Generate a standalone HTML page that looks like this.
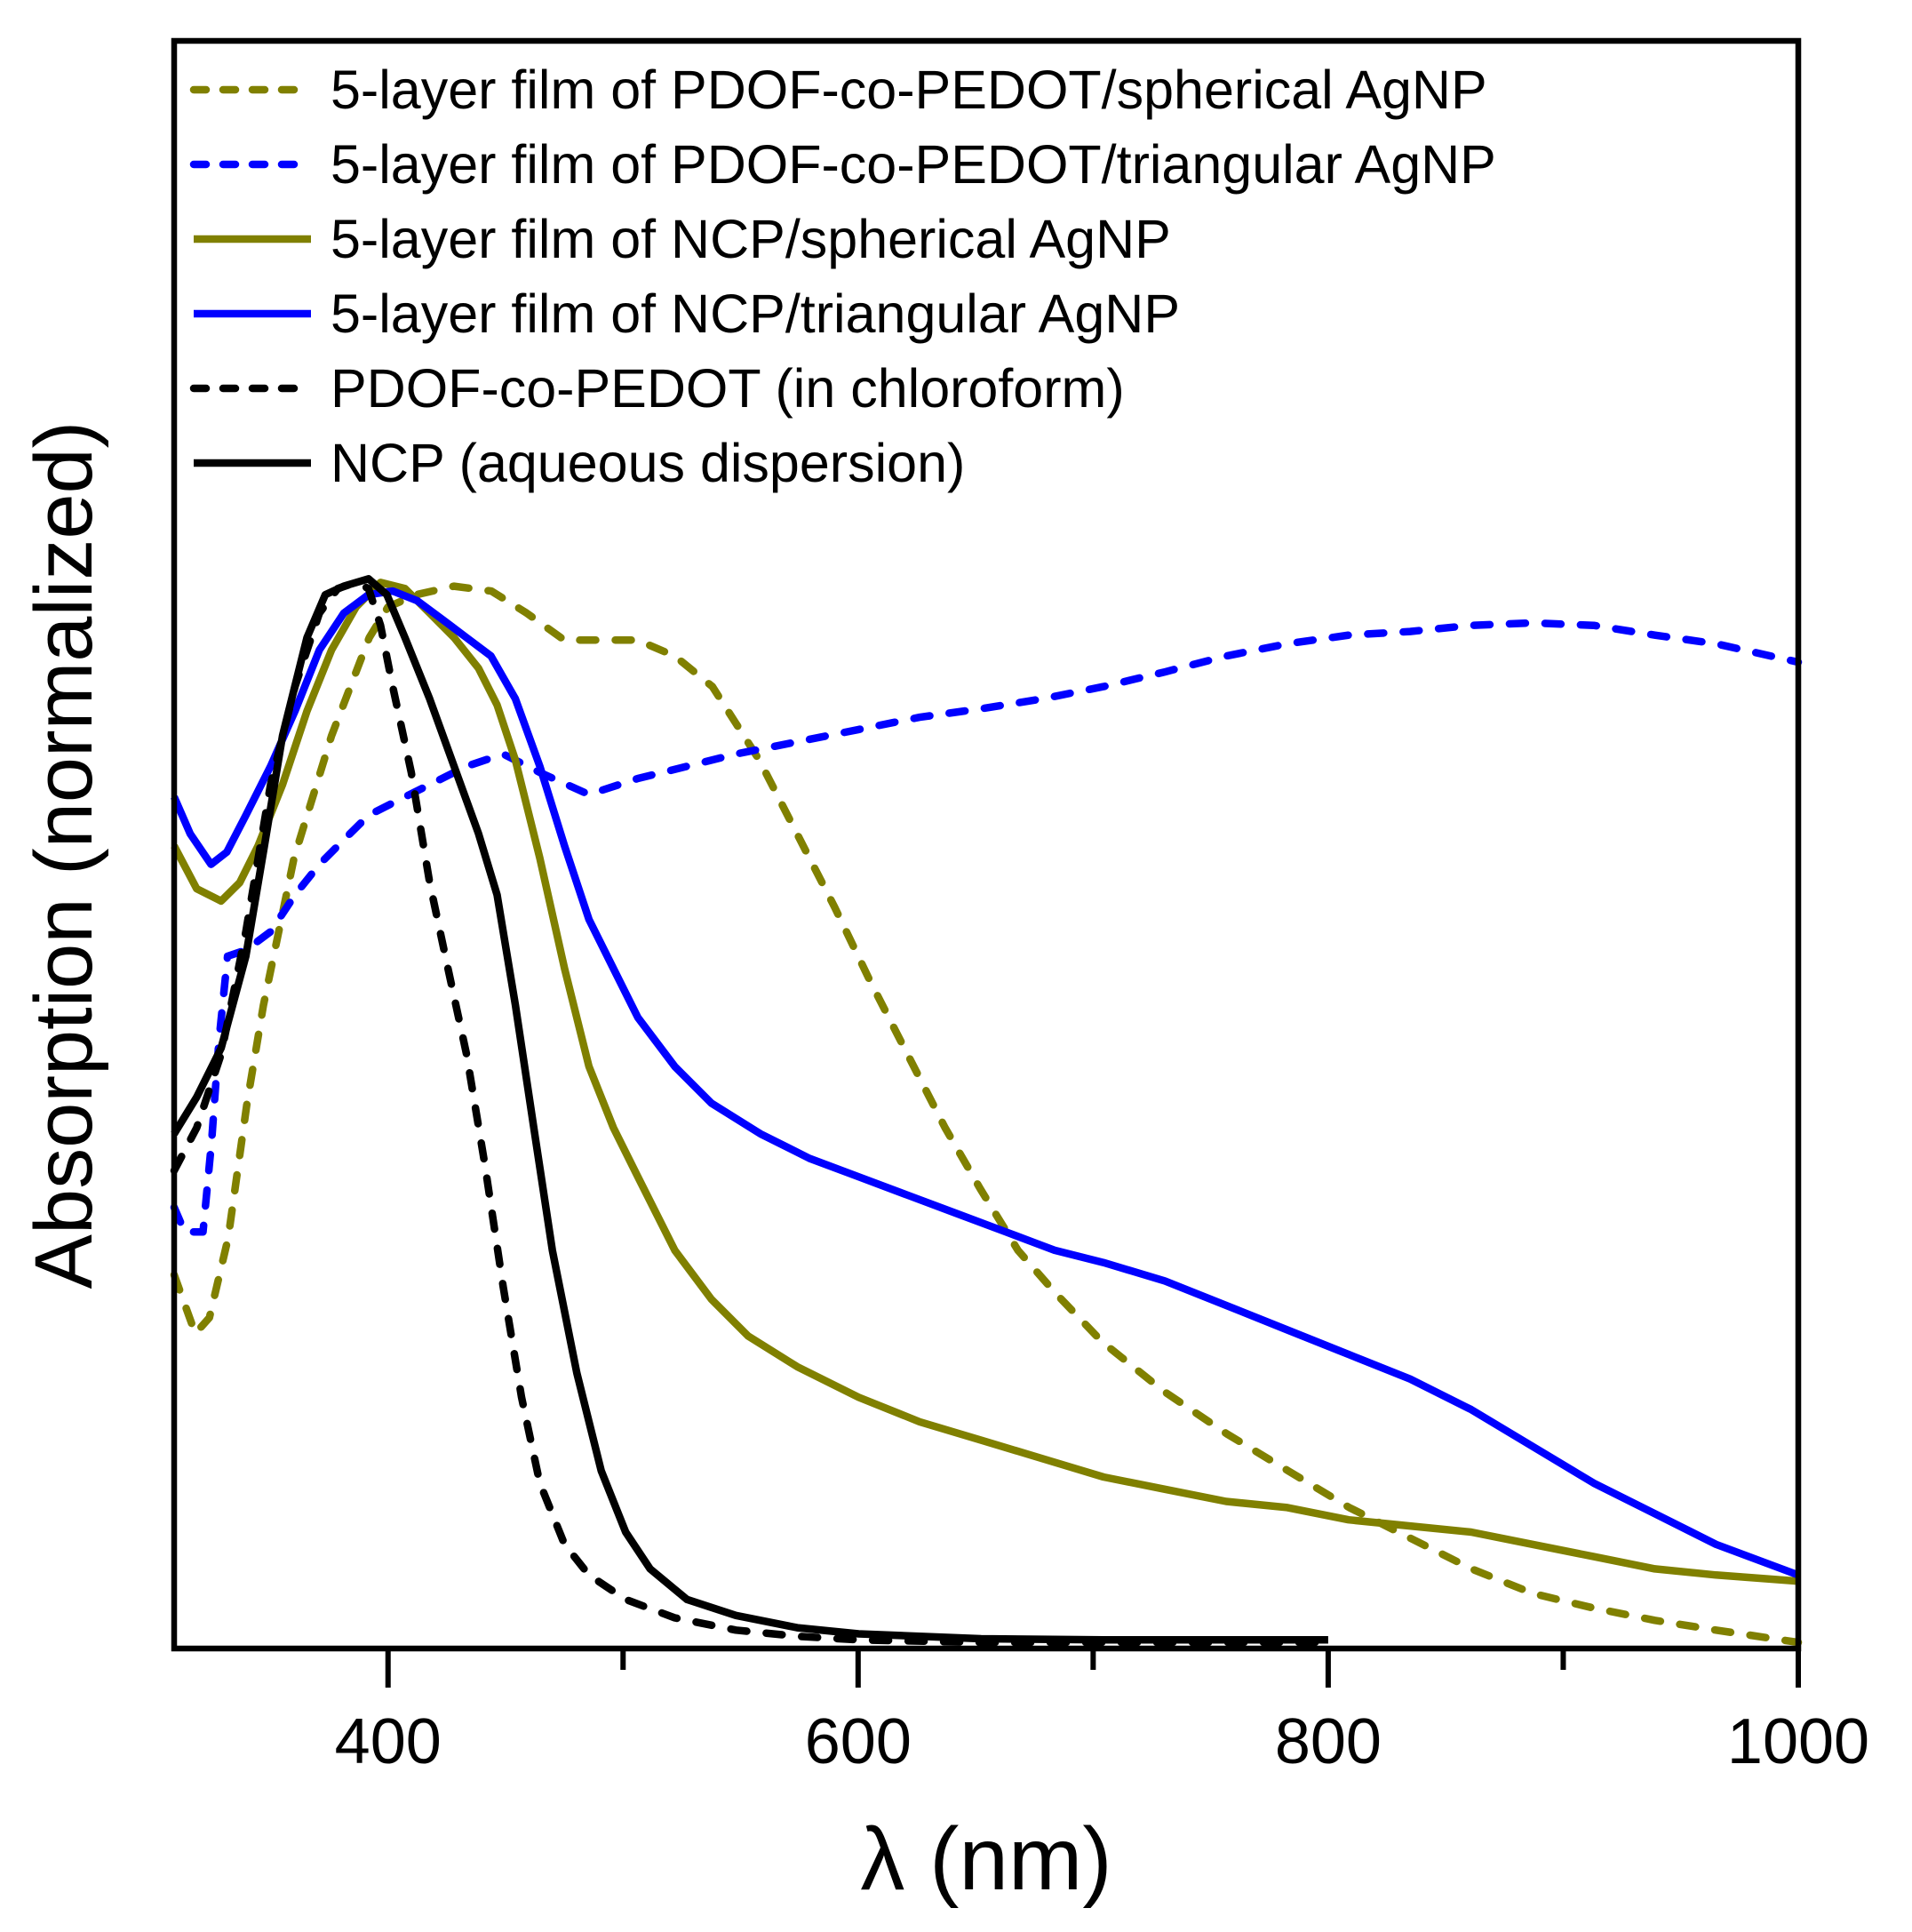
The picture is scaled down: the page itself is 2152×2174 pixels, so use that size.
<!DOCTYPE html>
<html><head><meta charset="utf-8"><style>
html,body{margin:0;padding:0;background:#fff;}
svg{display:block;font-family:"Liberation Sans",Arial,sans-serif;}
</style></head><body>
<svg id="chart" width="2152" height="2174" viewBox="0 0 2152 2174" xmlns="http://www.w3.org/2000/svg">
<g id="series"></g>
<rect x="196" y="46" width="1828" height="1809" fill="none" stroke="#000" stroke-width="6.5"/>
<g id="xticks"></g>
<text x="1110" y="2126" font-size="100" text-anchor="middle">λ (nm)</text>
<text transform="translate(103,962) rotate(-90)" font-size="92" text-anchor="middle">Absorption (normalized)</text>
<g id="legend"></g>
</svg>
<script>
const xTicks=[400,600,800,1000];
const xMinor=[500,700,900];
const labels=["5-layer film of PDOF-co-PEDOT/spherical AgNP","5-layer film of PDOF-co-PEDOT/triangular AgNP","5-layer film of NCP/spherical AgNP","5-layer film of NCP/triangular AgNP","PDOF-co-PEDOT (in chloroform)","NCP (aqueous dispersion)"];
const colors=["#808000","#0000ff","#808000","#0000ff","#000","#000"];
const dashed=[true,true,false,false,true,false];
const lamOD=[309,318,324,332,340,347,360,376,392,400,412,428,444,459,475,491,506,522,538,548,558,574,590,605,621,637,652,668,684,704,730,757,783,809,835,861,887,913,939,965,1000];
const valOD=[305,257,270,335,445,525,645,745,825,850,860,867,863,845,823,823,823,810,785,755,725,665,605,545,485,425,375,325,290,250,210,175,145,115,90,65,45,33,23,15,5];
const lamBD=[309,313.5,321.3,325,328,331.7,339.5,350,360.4,370.8,381.2,391.7,402,417.7,433.4,449,464.6,485.5,506.3,527.2,548,574.1,600.2,626.2,652.3,678.4,704.4,730.5,756.6,782.6,808.7,834.8,860.8,886.9,913,939,965,1000];
const valBD=[360,340,340,415,495,565,570,585,615,640,660,680,690,705,720,730,715,697,710,720,730,740,750,760,767,775,785,797,810,820,827,830,835,837,835,827,820,805];
const lamOS=[309,318.6,329,336.9,344.7,355.1,365.5,376,386.4,396.8,407.2,417.7,428.1,438.5,446.4,454.2,464.6,475.1,485.5,495.9,506.3,522,537.6,553.2,574.1,600.2,626.2,652.3,678.4,704.4,730.5,756.6,782.6,808.7,834.8,860.8,886.9,913,939,965,1000];
const valOS=[655,620,610,625,655,705,765,815,850,870,865,845,825,800,770,725,645,555,475,425,385,325,285,255,230,205,185,170,155,140,130,120,115,105,100,95,85,75,65,60,55];
const lamBS=[309,315.8,324.7,331.4,339.5,350,360.4,370.8,381.2,391.7,402,412.5,423,433.4,443.8,454.2,464.6,475.1,485.5,495.9,506.3,522,537.6,558.5,579.3,600.2,621,641.9,662.8,683.6,704.4,730.5,756.6,782.6,808.7,834.8,860.8,886.9,913,939,965,1000];
const valBS=[695,665,640,650,680,720,765,815,845,860,863,855,840,825,810,775,720,655,595,555,515,475,445,420,400,385,370,355,340,325,315,300,280,260,240,220,195,165,135,110,85,60];
const lamKD=[309,318.6,329,339.5,350,360.4,370.8,378.6,386.4,391.7,396.8,402,409.9,417.7,425.5,433.4,441.2,449,456.8,464.6,475.1,485.5,501.1,522,548,574.1,600.2,652.3,704.4,756.6,800];
const valKD=[390,425,485,585,705,785,845,865,870,865,835,785,715,625,555,485,395,295,205,135,85,60,40,25,15,10,7,5,5,5,5];
const lamKS=[309,318.6,329,339.5,347.4,355.1,365.5,373.3,381.2,391.7,399.5,407.2,417.7,428.1,438.5,446.4,454.2,462,469.9,480.3,490.7,501.1,511.5,527.2,548,574.1,600.2,652.3,704.4,756.6,800];
const valKS=[420,450,490,565,655,745,825,860,867,873,860,825,775,720,665,615,525,425,325,225,145,95,65,40,27,17,12,8,7,7,7];

const NS="http://www.w3.org/2000/svg";
const X0=196,X1=2024,Y0=46,Y1=1855;
const xMin=309,xMax=1000,yMax=1312;
function xs(l){return X0+(l-xMin)/(xMax-xMin)*(X1-X0);}
function ys(v){return Y1-v/yMax*(Y1-Y0);}
function mk(t,a){const e=document.createElementNS(NS,t);for(const k in a)e.setAttribute(k,a[k]);return e;}
const sets=[[lamOD,valOD],[lamBD,valBD],[lamOS,valOS],[lamBS,valBS],[lamKD,valKD],[lamKS,valKS]];
const names=["pdof-spherical-line","pdof-triangular-line","ncp-spherical-line","ncp-triangular-line","pdof-chloroform-line","ncp-aqueous-line"];
const sg=document.getElementById("series");
[0,1,2,3,4,5].forEach(i=>{
  const [L,V]=sets[i];
  const d=L.map((l,j)=>(j?"L":"M")+xs(l).toFixed(1)+","+ys(V[j]).toFixed(1)).join("");
  const p=mk("path",{d:d,fill:"none",stroke:colors[i],"stroke-width":8.5,"stroke-linejoin":"round","stroke-linecap":dashed[i]?"round":"butt"});
  if(dashed[i])p.setAttribute("stroke-dasharray","18 22");
  
  
  sg.appendChild(p);
});
const xg=document.getElementById("xticks");
xTicks.forEach(t=>{
  const ln=mk("line",{x1:xs(t),x2:xs(t),y1:Y1,y2:Y1+44,stroke:"#000","stroke-width":6});
  
  
  xg.appendChild(ln);
  const tx=mk("text",{x:xs(t),y:1984,"font-size":72,"text-anchor":"middle"});
  tx.textContent=t;
  
  
  xg.appendChild(tx);
});
xMinor.forEach(t=>{
  const ln=mk("line",{x1:xs(t),x2:xs(t),y1:Y1,y2:Y1+24,stroke:"#000","stroke-width":6});
  
  
  xg.appendChild(ln);
});
const lg=document.getElementById("legend");
const rowsY=[101,185,269,353,437,521];
labels.forEach((lab,i)=>{
  const g=mk("g",{});
  
  
  const ln=mk("line",{x1:218,x2:350,y1:rowsY[i],y2:rowsY[i],stroke:colors[i],"stroke-width":8.5,"stroke-linecap":dashed[i]?"round":"butt"});
  if(dashed[i])ln.setAttribute("stroke-dasharray","14 19");
  
  
  g.appendChild(ln);
  const tx=mk("text",{x:372,y:rowsY[i]+21,"font-size":61});
  tx.textContent=lab;
  
  
  g.appendChild(tx);
  lg.appendChild(g);
});
</script>
</body></html>
